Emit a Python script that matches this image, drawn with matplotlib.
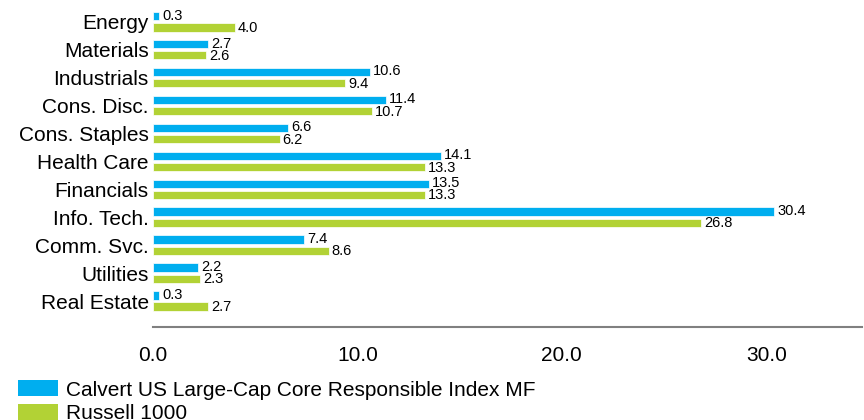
import numpy as np
import matplotlib.pyplot as plt
from matplotlib.patches import Patch

plt.rcParams['font.family'] = ['Liberation Sans', 'DejaVu Sans']

sectors = ['Energy', 'Materials', 'Industrials', 'Cons. Disc.', 'Cons. Staples',
           'Health Care', 'Financials', 'Info. Tech.', 'Comm. Svc.', 'Utilities',
           'Real Estate']
fund = [0.3, 2.7, 10.6, 11.4, 6.6, 14.1, 13.5, 30.4, 7.4, 2.2, 0.3]
bench = [4.0, 2.6, 9.4, 10.7, 6.2, 13.3, 13.3, 26.8, 8.6, 2.3, 2.7]
names = ['Calvert US Large-Cap Core Responsible Index MF', 'Russell 1000']
blue = '#00AEEF'
green = '#B2D235'

fig = plt.figure(figsize=(8.64, 4.2), dpi=100)
ax = fig.add_axes([0.177, 0.2214, 0.821, 0.76])

y = np.arange(len(sectors))
h = 0.3
ax.barh(y - 0.2, fund, height=h, color=blue, edgecolor='white', linewidth=0.5)
ax.barh(y + 0.2, bench, height=h, color=green, edgecolor='white', linewidth=0.5)

for i in range(len(sectors)):
    ax.text(fund[i] + 0.15, y[i] - 0.22, f'{fund[i]:.1f}', va='center', ha='left', fontsize=10.5)
    ax.text(bench[i] + 0.15, y[i] + 0.22, f'{bench[i]:.1f}', va='center', ha='left', fontsize=10.5)

ax.set_xlim(0, 34.7)
ax.set_ylim(10.93, -0.5)
ax.set_yticks(y)
ax.set_yticklabels(sectors, fontsize=15)
ax.set_xticks([0, 10, 20, 30])
ax.set_xticklabels(['0.0', '10.0', '20.0', '30.0'], fontsize=15)
ax.tick_params(axis='x', length=0, pad=14)
ax.tick_params(axis='y', length=0, pad=3)
for s in ['top', 'right', 'left']:
    ax.spines[s].set_visible(False)
ax.spines['bottom'].set_color('#808080')
ax.spines['bottom'].set_linewidth(1.5)

handles = [Patch(facecolor=blue), Patch(facecolor=green)]
fig.legend(handles, names, loc='lower left', bbox_to_anchor=(0.004, -0.042),
           frameon=False, fontsize=15, handlelength=1.92, handleheight=0.82,
           handletextpad=0.4, labelspacing=0.2, borderpad=0.2)

fig.savefig('out.png', dpi=100)
